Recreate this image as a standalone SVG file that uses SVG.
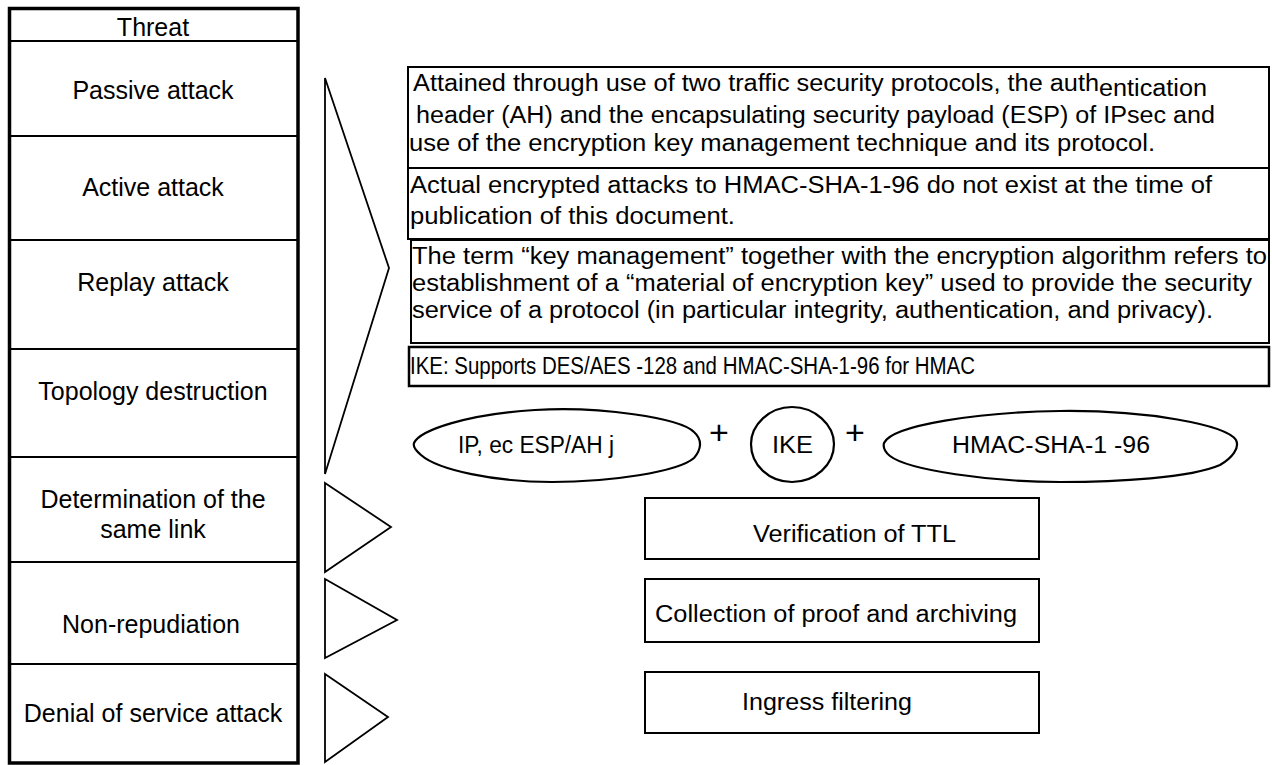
<svg xmlns="http://www.w3.org/2000/svg" width="1272" height="765" viewBox="0 0 1272 765">
  <style>
    .bg { fill: #ffffff; }
    .frame { fill: none; stroke: #000; stroke-width: 3.5; }
    .row { fill: none; stroke: #000; stroke-width: 2; }
    .box { fill: #ffffff; stroke: #000; stroke-width: 2; }
    .shape { fill: none; stroke: #000; stroke-width: 1.8; stroke-linejoin: miter; }
    .blob { fill: #ffffff; stroke: #000; stroke-width: 2.2; stroke-linejoin: round; }
    text { font-family: "Liberation Sans", Arial, Helvetica, sans-serif; fill: #000; }
    .lbl { font-size: 25px; text-anchor: middle; }
    .body { font-size: 23px; }
    .plus { font-size: 34px; text-anchor: middle; }
  </style>

  <rect class="bg" x="0" y="0" width="1272" height="765"/>

  <!-- Threat table -->
  <g id="threat-table">
    <rect class="frame" x="9.5" y="8.5" width="288.5" height="754.5"/>
    <line class="row" x1="10" y1="41" x2="298" y2="41"/>
    <line class="row" x1="10" y1="136" x2="298" y2="136"/>
    <line class="row" x1="10" y1="240" x2="298" y2="240"/>
    <line class="row" x1="10" y1="349" x2="298" y2="349"/>
    <line class="row" x1="10" y1="457" x2="298" y2="457"/>
    <line class="row" x1="10" y1="562" x2="298" y2="562"/>
    <line class="row" x1="10" y1="664" x2="298" y2="664"/>
  </g>
  <g id="threat-header"><text class="lbl" x="153" y="36">Threat</text></g>
  <g id="passive-attack"><text class="lbl" x="153" y="99">Passive attack</text></g>
  <g id="active-attack"><text class="lbl" x="153" y="196">Active attack</text></g>
  <g id="replay-attack"><text class="lbl" x="153" y="291">Replay attack</text></g>
  <g id="topology-destruction"><text class="lbl" x="153" y="400">Topology destruction</text></g>
  <g id="same-link">
    <text class="lbl" x="153" y="508">Determination of the</text>
    <text class="lbl" x="153" y="538">same link</text>
  </g>
  <g id="non-repudiation"><text class="lbl" x="151" y="633">Non-repudiation</text></g>
  <g id="dos-attack"><text class="lbl" x="153" y="722">Denial of service attack</text></g>

  <!-- Pointers from threats to countermeasures -->
  <g id="connectors">
    <path class="shape" d="M325,78 L389,268 L325,474 Z"/>
    <path class="shape" d="M325,483 L391,527 L325,572 Z"/>
    <path class="shape" d="M325,579 L397,620 L325,658 Z"/>
    <path class="shape" d="M325,674 L388,717 L325,762 Z"/>
  </g>

  <!-- IPsec description blocks -->
  <g id="ipsec-protocols">
    <rect class="box" x="408" y="67" width="861" height="101"/>
    <text class="body" x="413" y="91" textLength="686" lengthAdjust="spacingAndGlyphs">Attained through use of two traffic security protocols, the auth</text>
    <text class="body" x="1099" y="96" textLength="108" lengthAdjust="spacingAndGlyphs">entication</text>
    <text class="body" x="416" y="123" textLength="799" lengthAdjust="spacingAndGlyphs">header (AH) and the encapsulating security payload (ESP) of IPsec and</text>
    <text class="body" x="409" y="151" textLength="746" lengthAdjust="spacingAndGlyphs">use of the encryption key management technique and its protocol.</text>
  </g>
  <g id="hmac-note">
    <rect class="box" x="408" y="168" width="861" height="71"/>
    <text class="body" x="410" y="193" textLength="802" lengthAdjust="spacingAndGlyphs">Actual encrypted attacks to HMAC-SHA-1-96 do not exist at the time of</text>
    <text class="body" x="410" y="224" textLength="325" lengthAdjust="spacingAndGlyphs">publication of this document.</text>
  </g>
  <g id="key-management">
    <rect class="box" x="411" y="240" width="858" height="103"/>
    <text class="body" x="412" y="264" textLength="855" lengthAdjust="spacingAndGlyphs">The term “key management” together with the encryption algorithm refers to</text>
    <text class="body" x="412" y="291" textLength="840" lengthAdjust="spacingAndGlyphs">establishment of a “material of encryption key” used to provide the security</text>
    <text class="body" x="412" y="318" textLength="801" lengthAdjust="spacingAndGlyphs">service of a protocol (in particular integrity, authentication, and privacy).</text>
  </g>
  <g id="ike-support">
    <rect class="box" x="409" y="347" width="860" height="39" style="stroke-width:2.5"/>
    <text class="body" x="410" y="374" textLength="565" lengthAdjust="spacingAndGlyphs">IKE: Supports DES/AES -128 and HMAC-SHA-1-96 for HMAC</text>
  </g>

  <!-- Protocol combination -->
  <g id="ipsec-blob">
    <path class="blob" d="M414,443 C420,430 468,414 535,410 C600,406 680,418 694,432 C703,440 701,450 694,458 C678,472 610,482 552,482 C495,482 438,470 421,455 C415,450 413,446 414,443 Z"/>
    <text class="body" x="458" y="453" textLength="156" lengthAdjust="spacingAndGlyphs">IP, ec ESP/AH j</text>
  </g>
  <g id="plus-1"><text class="plus" x="719" y="444">+</text></g>
  <g id="ike-blob">
    <path class="blob" d="M792,407 C815,407 834,425 834,444 C834,465 815,482 792,482 C769,482 751,465 751,444 C751,425 769,407 792,407 Z"/>
    <text class="body" x="772" y="453" textLength="41" lengthAdjust="spacingAndGlyphs">IKE</text>
  </g>
  <g id="plus-2"><text class="plus" x="855" y="444">+</text></g>
  <g id="hmac-blob">
    <path class="blob" d="M884,443 C892,425 980,412 1060,411 C1148,410 1226,425 1236,440 C1240,448 1232,458 1220,465 C1190,478 1118,482 1060,482 C990,482 908,470 890,456 C885,452 883,447 884,443 Z"/>
    <text class="body" x="952" y="453" textLength="198" lengthAdjust="spacingAndGlyphs">HMAC-SHA-1 -96</text>
  </g>

  <!-- Countermeasure boxes -->
  <g id="ttl-check">
    <rect class="box" x="645" y="498" width="394" height="61"/>
    <text class="body" x="753" y="542" textLength="203" lengthAdjust="spacingAndGlyphs">Verification of TTL</text>
  </g>
  <g id="proof-archiving">
    <rect class="box" x="645" y="579" width="394" height="63"/>
    <text class="body" x="655" y="622" textLength="362" lengthAdjust="spacingAndGlyphs">Collection of proof and archiving</text>
  </g>
  <g id="ingress-filtering">
    <rect class="box" x="645" y="672" width="394" height="61"/>
    <text class="body" x="742" y="710" textLength="170" lengthAdjust="spacingAndGlyphs">Ingress filtering</text>
  </g>
</svg>
